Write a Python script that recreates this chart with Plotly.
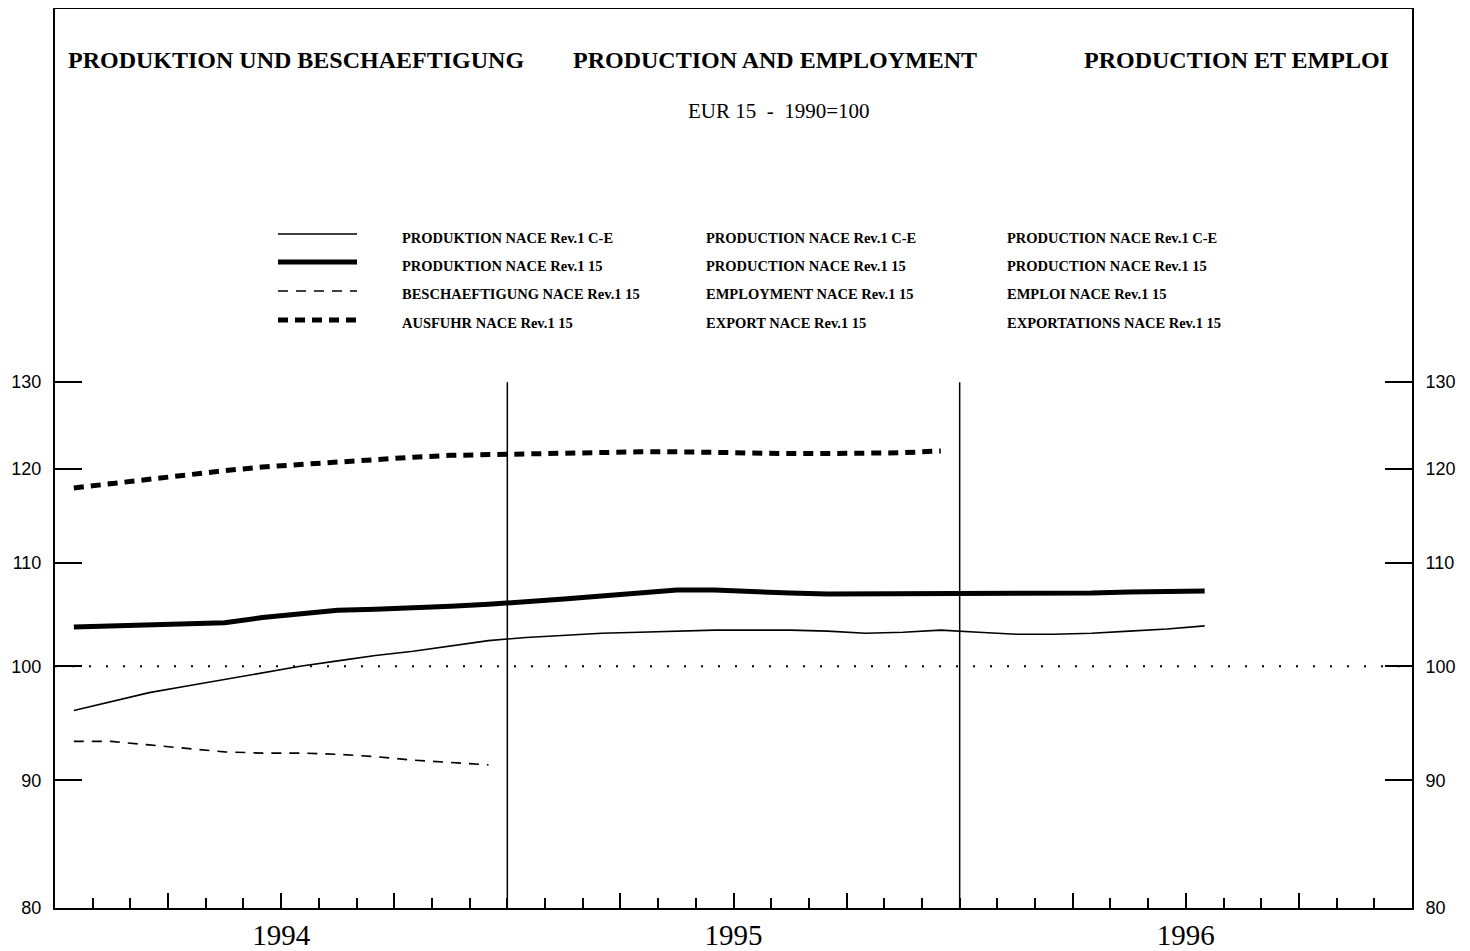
import math
import plotly.graph_objects as go

# ---------------- data ----------------
months = [f"{y}-{m:02d}" for y in (1994, 1995, 1996) for m in range(1, 13)][:31]
years = ["1994", "1995", "1996"]

prod_ce = [96.0, 96.8, 97.6, 98.2, 98.8, 99.4, 100.0, 100.5, 101.0, 101.4, 101.9, 102.4,
           102.7, 102.9, 103.1, 103.2, 103.3, 103.4, 103.4, 103.4, 103.3, 103.1, 103.2, 103.4,
           103.2, 103.0, 103.0, 103.1, 103.3, 103.5, 103.8]
prod_15 = [103.7, 103.8, 103.9, 103.9, 104.1, 104.6, 105.0, 105.3, 105.4, 105.5, 105.7, 105.9,
           106.1, 106.4, 106.7, 107.0, 107.3, 107.3, 107.1, 107.0, 106.9, 106.9, 107.0, 107.0,
           106.9, 106.9, 106.9, 107.0, 107.1, 107.2, 107.2]
employment = [93.3, 93.3, 93.0, 92.7, 92.4, 92.3, 92.3, 92.2, 92.0, 91.7, 91.5, 91.3]
exports = [117.9, 118.4, 118.9, 119.4, 119.8, 120.2, 120.5, 120.8, 121.1, 121.3, 121.5, 121.6,
           121.7, 121.8, 121.9, 121.9, 121.9, 121.8, 121.8, 121.7, 121.7, 121.7, 121.8, 122.0]

y_ticks = [80, 90, 100, 110, 120, 130]
reference_level = 100

titles = ["PRODUKTION UND BESCHAEFTIGUNG", "PRODUCTION AND EMPLOYMENT", "PRODUCTION ET EMPLOI"]
subtitle = "EUR 15  -  1990=100"
legend_de = ["PRODUKTION NACE Rev.1 C-E", "PRODUKTION NACE Rev.1 15",
             "BESCHAEFTIGUNG NACE Rev.1 15", "AUSFUHR NACE Rev.1 15"]
legend_en = ["PRODUCTION NACE Rev.1 C-E", "PRODUCTION NACE Rev.1 15",
             "EMPLOYMENT NACE Rev.1 15", "EXPORT NACE Rev.1 15"]
legend_fr = ["PRODUCTION NACE Rev.1 C-E", "PRODUCTION NACE Rev.1 15",
             "EMPLOI NACE Rev.1 15", "EXPORTATIONS NACE Rev.1 15"]

# ---------------- layout geometry ----------------
OFF = 8                      # page body margin
W, H = 1470 - OFF, 951 - OFF
L, R, T, B = 55 - OFF, 1412 - OFF, 9 - OFF, 908 - OFF


def px(x):                   # reference page x -> paper
    return (x - OFF - L) / (R - L)


def py(y):                   # reference page y -> paper
    return (B - (y - OFF)) / (B - T)


def mpos(seq):
    # month centre positions on a "months since Jan 1994" axis
    return [months.index(m) + 0.5 for m in months[:len(seq)]]


styles = [
    dict(width=1.6, dash="solid"),
    dict(width=5, dash="solid"),
    dict(width=1.6, dash="10px,8px"),
    dict(width=5, dash="10px,7px"),
]
series = [prod_ce, prod_15, employment, exports]

fig = go.Figure()
for i, (s, st) in enumerate(zip(series, styles)):
    fig.add_trace(go.Scatter(
        x=mpos(s), y=s, mode="lines",
        line=dict(color="black", width=st["width"], dash=st["dash"]),
        yaxis="y2" if i == 3 else "y",
        showlegend=False, hoverinfo="skip",
    ))

serif = "Liberation Serif"
sans = "Liberation Sans"

n_years = len(years)
quarter_vals = [12 * k + q for k in range(n_years) for q in (3, 6, 9)]
quarter_text = [years[k] if q == 6 else "" for k in range(n_years) for q in (3, 6, 9)]

ymin = math.log10(80)
ymax = ymin + (B - T) / 2494.0

yaxis_common = dict(
    type="log", range=[ymin, ymax], tickmode="array", tickvals=y_ticks,
    ticktext=[str(v) for v in y_ticks], ticks="inside", ticklen=27, tickwidth=1.5,
    tickcolor="black", showgrid=False, zeroline=False, showline=True, linewidth=2,
    linecolor="black", tickfont=dict(family=sans, size=18, color="black"),
    automargin=False, ticklabelstandoff=8,
)

fig.update_layout(
    width=W, height=H, margin=dict(l=L, r=W - R, t=T, b=H - B, pad=0),
    paper_bgcolor="white", plot_bgcolor="white", showlegend=False,
    xaxis=dict(
        range=[0, 12 * n_years], tickmode="array", tickvals=quarter_vals, ticktext=quarter_text,
        ticks="inside", ticklen=15, tickwidth=1.5, tickcolor="black",
        minor=dict(dtick=1, tick0=0, ticks="inside", ticklen=10, tickwidth=1.5, tickcolor="black",
                   showgrid=False),
        showgrid=False, zeroline=False, showline=True, linewidth=2, linecolor="black",
        mirror=True, tickfont=dict(family=serif, size=29, color="black"),
        automargin=False, ticklabelstandoff=0,
    ),
    yaxis=dict(**yaxis_common, mirror=True, side="left"),
    yaxis2=dict(**yaxis_common, overlaying="y", side="right", matches="y", anchor="x"),
)

shapes = []
# year separators
for k in range(1, n_years):
    shapes.append(dict(type="line", xref="x", yref="y", x0=12 * k, x1=12 * k,
                       y0=y_ticks[0], y1=y_ticks[-1], line=dict(color="black", width=1.5)))
# 100 reference dotted line
shapes.append(dict(type="line", xref="paper", yref="y", x0=0, x1=1,
                   y0=reference_level, y1=reference_level,
                   line=dict(color="black", width=2, dash="2px,15px")))
# legend samples
row_y = [234, 262, 291, 320]
for st, yy in zip(styles, row_y):
    shapes.append(dict(type="line", xref="paper", yref="paper", x0=px(278), x1=px(357),
                       y0=py(yy), y1=py(yy),
                       line=dict(color="black", width=st["width"], dash=st["dash"])))
fig.update_layout(shapes=shapes)

ann = []
for t, xx in zip(titles, [66, 571, 1082]):
    ann.append(dict(text=t, xref="paper", yref="paper", x=px(xx), y=py(60), xanchor="left",
                    yanchor="middle", showarrow=False,
                    font=dict(family=serif, size=24, color="black", weight="bold")))
ann.append(dict(text=subtitle, xref="paper", yref="paper", x=px(779), y=py(111),
                xanchor="center", yanchor="middle", showarrow=False,
                font=dict(family=serif, size=21, color="black")))
text_rows = [238, 266, 294, 323]
for col, xx in zip([legend_de, legend_en, legend_fr], [400, 704, 1005]):
    for txt, yy in zip(col, text_rows):
        ann.append(dict(text=txt, xref="paper", yref="paper", x=px(xx), y=py(yy),
                        xanchor="left", yanchor="middle", showarrow=False,
                        font=dict(family=serif, size=14.5, color="black", weight="bold")))
fig.update_layout(annotations=ann)

fig.write_html("out.html")
